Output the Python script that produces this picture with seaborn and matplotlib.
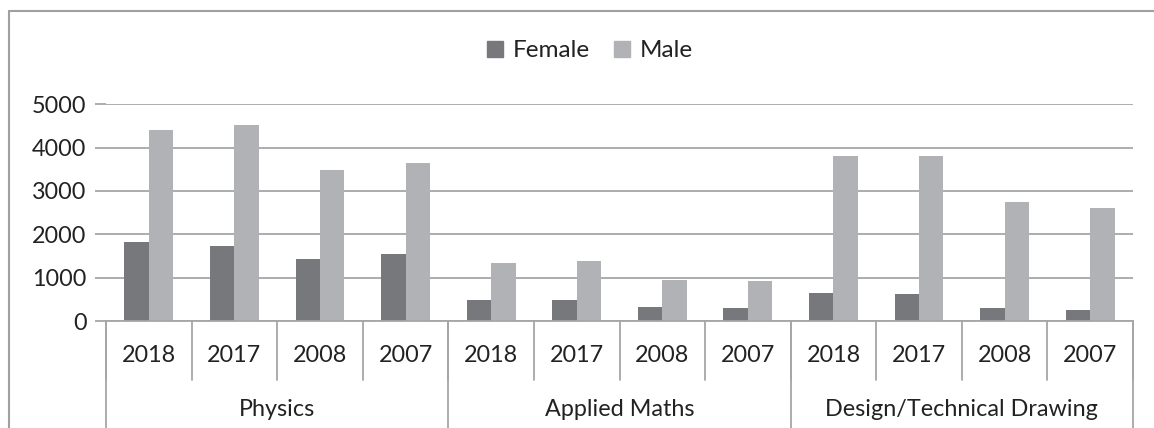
import numpy as np
import pandas as pd
import seaborn as sns
import matplotlib.pyplot as plt
import matplotlib.transforms as mtransforms
from matplotlib.lines import Line2D

#
# DATA
#

subjects = ["Physics", "Applied Maths", "Design/Technical Drawing"]
years = ["2018", "2017", "2008", "2007"]

female = [1830, 1730, 1425, 1555,
          485, 477, 323, 292,
          654, 615, 292, 262]
male = [4410, 4525, 3485, 3655,
        1331, 1377, 946, 923,
        3815, 3815, 2746, 2608]

COLORS = {"Female": "#77787b", "Male": "#b1b2b5"}
GRID = "#a6a6a6"
TEXT = "#222222"
FS = 16.8

sns.set_style("white")
plt.rcParams["font.family"] = ["Lato", "DejaVu Sans"]

# build long table
cats = [s + "|" + y for s in subjects for y in years]
df = pd.DataFrame({
    "cat": cats * 2,
    "sex": ["Female"] * len(cats) + ["Male"] * len(cats),
    "value": female + male,
})

W, H = 1154, 428
fig = plt.figure(figsize=(W / 100, H / 100), dpi=100)
ax = fig.add_axes([106 / W, (H - 321) / H, (1133 - 106) / W, (321 - 104.3) / H])

sns.barplot(data=df, x="cat", y="value", hue="sex", order=cats,
            palette=COLORS, width=0.57, gap=0, saturation=1,
            edgecolor="none", ax=ax)

ax.set_ylim(0, 5000)
ax.set_xlim(-0.5, len(cats) - 0.5)
ax.set_yticks(np.arange(0, 5001, 1000))
ax.yaxis.grid(True, color=GRID, linewidth=1.3)
ax.set_axisbelow(True)
for side in ["top", "right", "left"]:
    ax.spines[side].set_visible(False)
ax.spines["bottom"].set_color(GRID)
ax.spines["bottom"].set_linewidth(1.3)
ax.tick_params(axis="y", length=8, width=1.3, color=GRID, labelsize=FS,
               labelcolor=TEXT, pad=6, left=True)
ax.set_xticks([])
ax.set_xlabel("")
ax.set_ylabel("")

# multi level x axis
hpx = 321 - 104.3
tr = mtransforms.blended_transform_factory(ax.transData, ax.transAxes)
for i, c in enumerate(cats):
    ax.text(i, -(356 - 321) / hpx, c.split("|")[1], transform=tr,
            ha="center", va="center", fontsize=FS, color=TEXT)
for b in np.arange(-0.5, len(cats), 1.0):
    ax.plot([b, b], [0, -(380 - 321) / hpx], transform=tr, color=GRID,
            linewidth=1.3, clip_on=False)
n = len(years)
for k, s in enumerate(subjects):
    ax.text(k * n + (n - 1) / 2, -(409 - 321) / hpx, s, transform=tr,
            ha="center", va="center", fontsize=FS, color=TEXT)
for b in np.arange(-0.5, len(cats), n):
    ax.plot([b, b], [0, -(428 - 321) / hpx], transform=tr, color=GRID,
            linewidth=1.3, clip_on=False)

# legend
ax.legend_.remove()
handles = [plt.Rectangle((0, 0), 1, 1, color=COLORS[k]) for k in ["Female", "Male"]]
fig.legend(handles, ["Female", "Male"], loc="center",
           bbox_to_anchor=(590 / W, 1 - 50.7 / H), ncol=2, frameon=False,
           fontsize=17.5, handlelength=0.65, handleheight=0.65,
           handletextpad=0.4, columnspacing=1.0, labelcolor=TEXT)

# chart border
fig.add_artist(Line2D([9 / W, 9 / W], [0, 1 - 11 / H], color="#a0a0a0",
                      linewidth=1.5, transform=fig.transFigure))
fig.add_artist(Line2D([9 / W, 1], [1 - 11 / H, 1 - 11 / H], color="#a0a0a0",
                      linewidth=1.5, transform=fig.transFigure))

fig.savefig("out.png", dpi=100)
